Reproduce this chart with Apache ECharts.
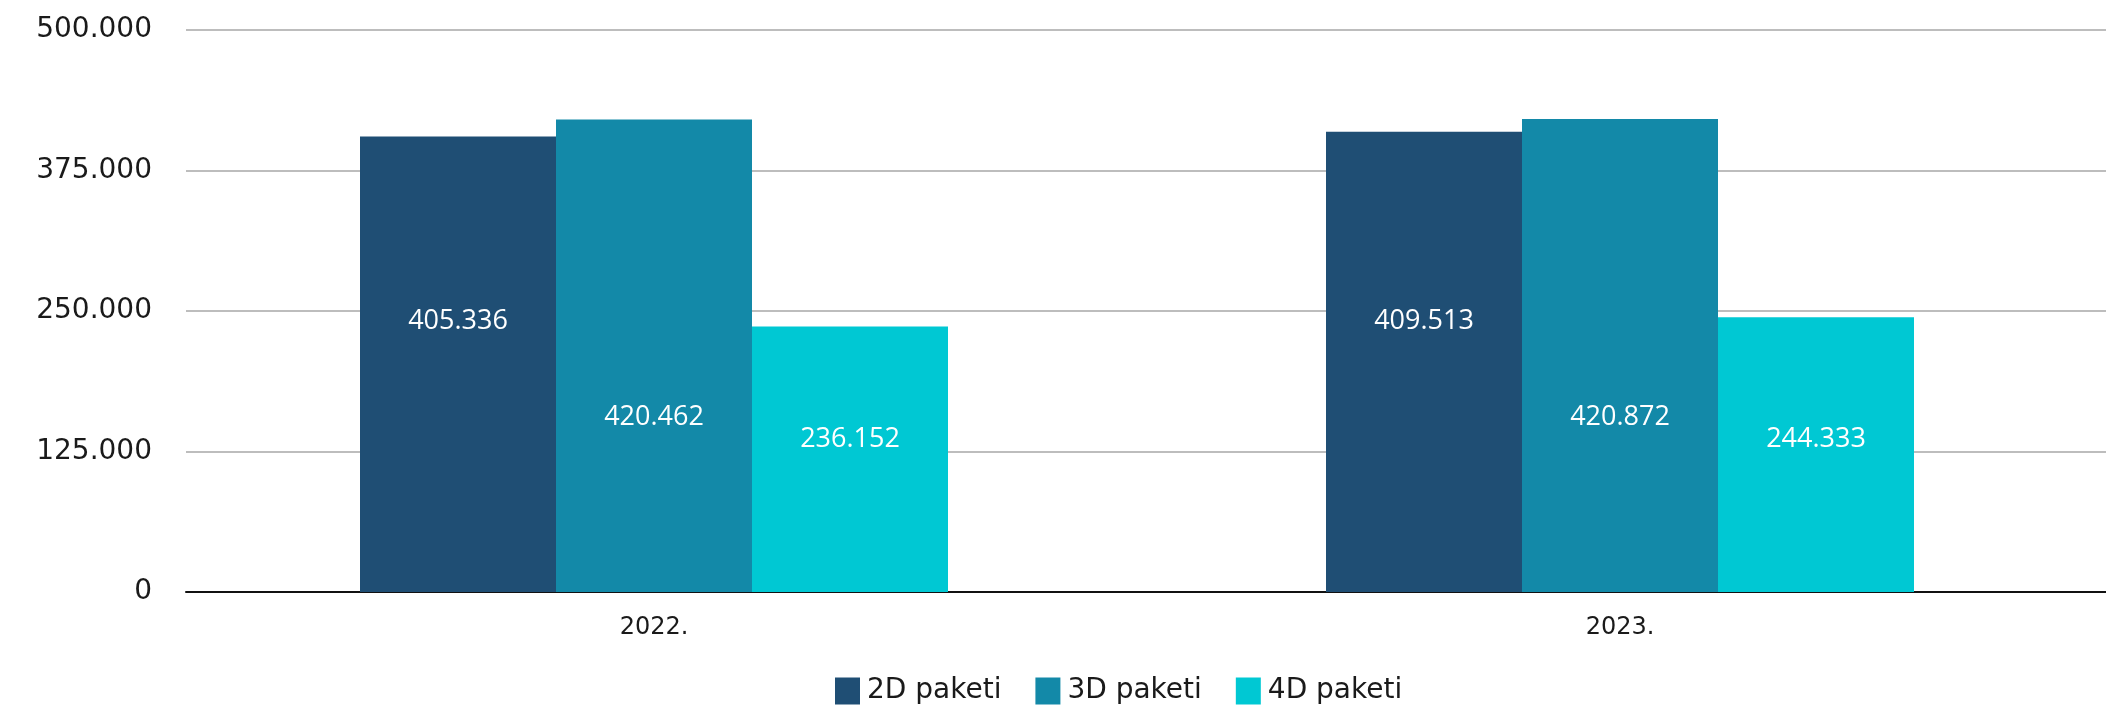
<!DOCTYPE html>
<html>
<head>
<meta charset="utf-8">
<script src="https://cdn.jsdelivr.net/npm/echarts@6/dist/echarts.min.js"></script>
<style>
  html, body { margin: 0; padding: 0; background: #ffffff; }
  #chart { width: 2106px; height: 707px; }
</style>
</head>
<body>
<div id="chart"></div>
<script>
// ---- Data ----
const categories = ['2022.', '2023.'];
const seriesNames = ['2D paketi', '3D paketi', '4D paketi'];
const values2D = [405336, 409513];
const values3D = [420462, 420872];
const values4D = [236152, 244333];
const yTicks = [0, 125000, 250000, 375000, 500000];

function fmt(v) {
  return String(Math.round(v)).replace(/\B(?=(\d{3})+(?!\d))/g, '.');
}

const colors = ['#1F4E74', '#1389A8', '#00C8D3'];
const labelDist = [256, 160, 138];
const seriesData = [values2D, values3D, values4D];

const yMin = yTicks[0], yMax = yTicks[yTicks.length - 1], yInt = yTicks[1] - yTicks[0];

const chart = echarts.init(document.getElementById('chart'), null, { renderer: 'canvas' });

const option = {
  animation: false,
  backgroundColor: '#ffffff',
  textStyle: { fontFamily: 'DejaVu Sans' },
  grid: [
    // grid 0: gridlines, y labels, baseline
    { left: 186, right: 0, top: 30, bottom: 115, containLabel: false, outerBoundsMode: 'none' },
    // grid 1: bars and category labels
    { left: 171, right: 3, top: 30, bottom: 115, containLabel: false, outerBoundsMode: 'none' }
  ],
  legend: {
    left: 830,
    top: 672,
    itemWidth: 25,
    itemHeight: 27,
    itemGap: 34,
    icon: 'rect',
    textStyle: { fontSize: 28, color: '#1a1a1a', fontFamily: 'DejaVu Sans', padding: [0, 0, 0, 2] },
    data: seriesNames
  },
  xAxis: [
    {
      type: 'category',
      gridIndex: 0,
      data: categories,
      axisLine: { show: true, lineStyle: { color: '#111111', width: 2 } },
      axisTick: { show: false },
      axisLabel: { show: false },
      splitLine: { show: false }
    },
    {
      type: 'category',
      gridIndex: 1,
      data: categories,
      axisLine: { show: false },
      axisTick: { show: false },
      axisLabel: { fontSize: 24, color: '#1a1a1a', margin: 24, fontFamily: 'DejaVu Sans' }
    }
  ],
  yAxis: [
    {
      type: 'value',
      gridIndex: 0,
      min: yMin, max: yMax, interval: yInt,
      axisLine: { show: false },
      axisTick: { show: false },
      splitLine: { show: true, lineStyle: { color: '#bdbdbd', width: 2 } },
      axisLabel: {
        fontSize: 28, color: '#1a1a1a', margin: 34, fontFamily: 'DejaVu Sans',
        padding: [3, 0, 0, 0],
        formatter: v => fmt(v)
      }
    },
    {
      type: 'value',
      gridIndex: 1,
      min: yMin, max: yMax, interval: yInt,
      show: false,
      splitLine: { show: false }
    }
  ],
  series: seriesNames.map((name, i) => ({
    name: name,
    type: 'bar',
    xAxisIndex: 1,
    yAxisIndex: 1,
    data: seriesData[i],
    barWidth: 196,
    barGap: '0%',
    itemStyle: { color: colors[i] },
    label: {
      show: true,
      position: 'insideBottom',
      distance: labelDist[i],
      color: '#ffffff',
      fontSize: 27,
      lineHeight: 30,
      fontFamily: 'Open Sans',
      fontWeight: 400,
      formatter: p => fmt(p.value)
    }
  }))
};

chart.setOption(option);
</script>
</body>
</html>
